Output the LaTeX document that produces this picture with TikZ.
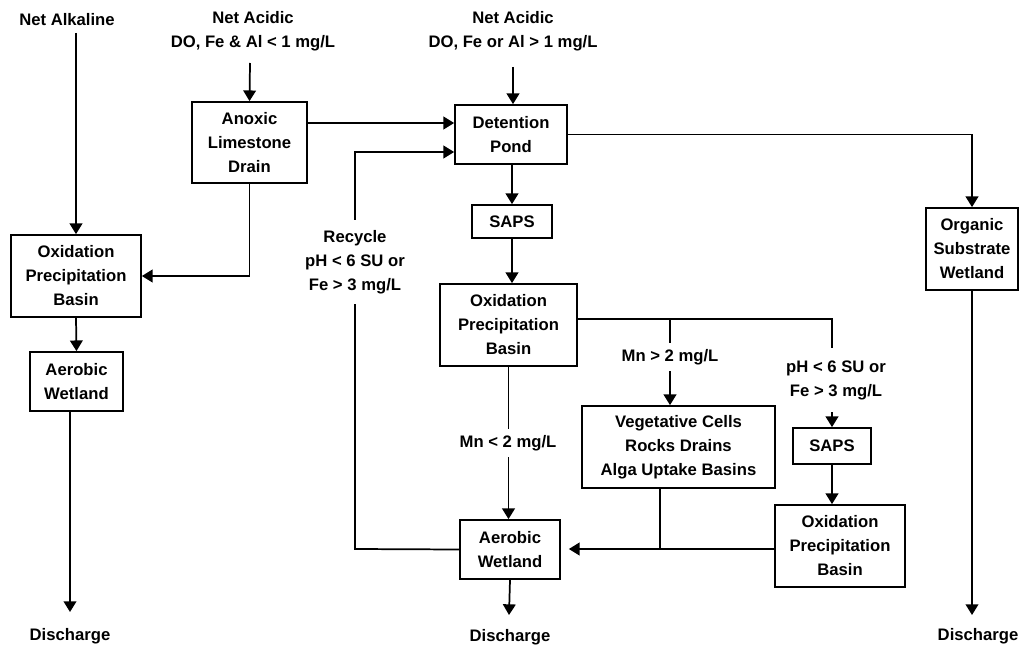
\documentclass[tikz,border=0pt]{standalone}
\usepackage{fontspec}
\setmainfont{Liberation Sans}
\usetikzlibrary{arrows.meta,calc}
\begin{document}
\begin{tikzpicture}[x=0.75pt,y=-0.75pt,
  every node/.style={font=\fontsize{12.5}{18}\selectfont\bfseries},
  box/.style 2 args={draw,line width=1.3pt,inner sep=0pt,align=center,
     minimum width=#1*0.75pt,minimum height=#2*0.75pt},
  lbl/.style={inner sep=0pt,align=center},
  cut/.style={fill=white,inner xsep=2pt,align=center},
  con/.style={line width=1.3pt},
  arr/.style={line width=1.3pt,-{Triangle[length=8pt,width=9.5pt]}}]
\path[use as bounding box] (0,0) rectangle (1019,652);

% boxes
\node[box={130}{82}] (oxL) at (76,276) {Oxidation\\Precipitation\\Basin};
\node[box={93}{59}] (awL) at (76.5,381.5) {Aerobic\\Wetland};
\node[box={115}{81}] (ald) at (249.5,142.5) {Anoxic\\Limestone\\Drain};
\node[box={112}{59}] (det) at (511,134.5) {Detention\\Pond};
\node[box={80}{33}] (saps1) at (512,221.5) {SAPS};
\node[box={137}{82}] (oxC) at (508.5,325) {Oxidation\\Precipitation\\Basin};
\node[box={193}{82}] (veg) at (678.5,447) {Vegetative Cells\\Rocks Drains\\Alga Uptake Basins};
\node[box={78}{36}] (saps2) at (832,446) {SAPS};
\node[box={130}{82}] (oxR) at (840,546) {Oxidation\\Precipitation\\Basin};
\node[box={100}{59}] (awC) at (510,549.5) {Aerobic\\Wetland};
\node[box={92}{82}] (osw) at (972,249) {Organic\\Substrate\\Wetland};

% top labels
\node[lbl] (tNA) at (67,20) {Net Alkaline};
\node[lbl] (tA1) at (253,31.5) {Net Acidic\\DO, Fe \& Al < 1 mg/L};
\node[lbl] (tA2) at (513,31.5) {Net Acidic\\DO, Fe or Al > 1 mg/L};

% discharge labels
\node[lbl] (dsL) at (70,636) {Discharge};
\node[lbl] (dsC) at (510,637) {Discharge};
\node[lbl] (dsR) at (978,636) {Discharge};

% coordinates
\coordinate (sNA) at (76,33);
\coordinate (sA1) at (250,63);
\coordinate (sA2) at (513,67);
\coordinate (eL) at (70,612);
\coordinate (eC) at (509,615);
\coordinate (eR) at (972,615);
\coordinate (j1) at (670,319);
\coordinate (j2) at (660,549);
\coordinate (r1) at (355,152);
\coordinate (r2) at (355,549);

% connectors
\draw[arr] (sNA) -- (sNA |- oxL.north);
\draw[arr] (sA1) -- (ald.north);
\draw[arr] (sA2) -- (sA2 |- det.north);
\draw[arr] (ald.east |- 0,123) -- (det.west |- 0,123);
\draw[arr] (ald.south) |- (oxL.east);
\draw[arr] (oxL.south) -- (awL.north);
\draw[arr] (eL |- awL.south) -- (eL);
\draw[arr] (det.east) -| (osw.north);
\draw[arr] (osw.south) -- (eR);
\draw[arr] (det.south -| saps1.north) -- (saps1.north);
\draw[arr] (saps1.south) -- (saps1.south |- oxC.north);
\draw[arr] (oxC.south) -- (oxC.south |- awC.north);
\draw[arr] (oxC.east |- j1) -| (saps2.north);
\draw[arr] (j1) -- (j1 |- veg.north);
\draw[arr] (saps2.south) -- (saps2.south |- oxR.north);
\draw[arr,shorten >=6pt] (oxR.west |- j2) -- (awC.east |- j2);
\draw[con] (j2 |- veg.south) -- (j2);
\draw[arr] (awC.west) -- (r2) -- (r1) -- (r1 -| det.west);
\draw[arr] (awC.south) -- (eC);

% labels on connectors
\node[cut,inner ysep=8pt] (lRec) at (355,262) {Recycle\\pH < 6 SU or\\Fe > 3 mg/L};
\node[cut,inner ysep=5pt] (lMn2) at (670,357) {Mn > 2 mg/L};
\node[cut,inner ysep=5pt] (lMn1) at (508,443) {Mn < 2 mg/L};
\node[cut,inner ysep=9pt] (lPH) at (836,380) {pH < 6 SU or\\Fe > 3 mg/L};
\end{tikzpicture}
\end{document}
